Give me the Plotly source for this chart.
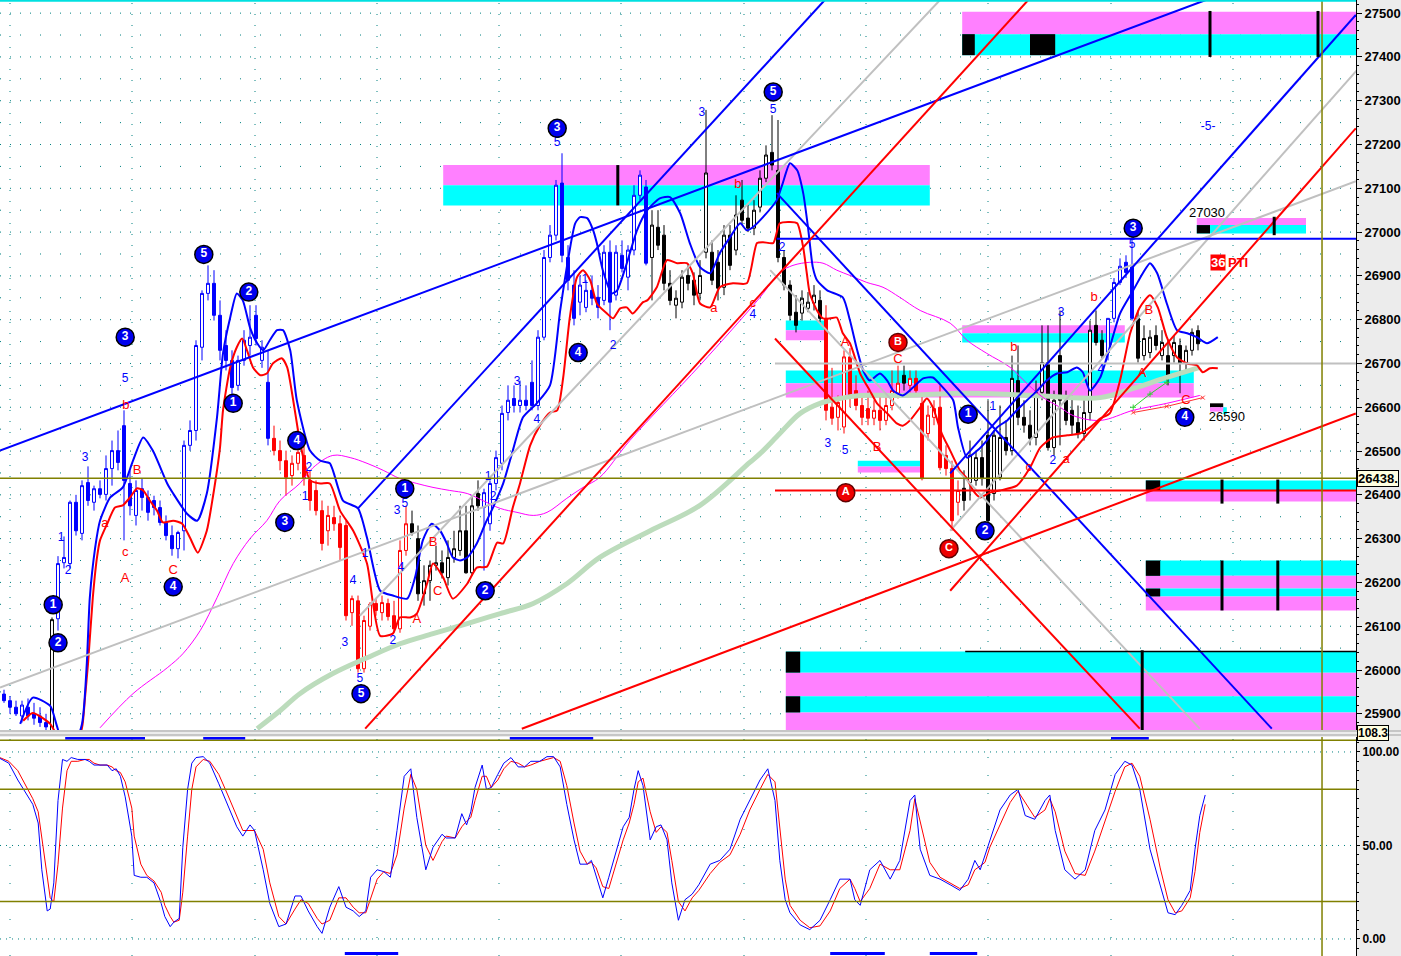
import plotly.graph_objects as go

# ---------------- candles (bar index 0..199) ----------------
opens = [25945,25930,25915,25895,25915,25900,25895,25880,25850,26117,
         26245,26243,26383,26312,26428,26383,26414,26401,26460,26501,
         26558,26426,26353,26414,26394,26387,26371,26337,26307,26277,
         26318,26513,26547,26737,26860,26883,26810,26741,26707,26650,
         26707,26741,26810,26707,26657,26529,26501,26478,26444,26472,
         26490,26433,26410,26364,26318,26348,26334,26330,26131,26158,
         26003,26100,26152,26131,26152,26124,26094,26273,26334,26300,
         26174,26204,26239,26245,26211,26257,26273,26318,26222,26403,
         26371,26334,26426,26472,26588,26620,26604,26616,26657,26604,
         26760,26942,26993,27112,26942,26879,26840,26828,26867,26851,
         26844,26954,26856,26947,26897,26959,27084,27103,26942,27011,
         26993,26883,26833,26840,26901,26890,26860,26954,26954,26931,
         26874,26993,26959,27073,27032,27009,27057,27123,27182,27141,
         26942,26879,26817,26815,26826,26838,26844,26803,26600,26577,
         26555,26715,26638,26604,26597,26575,26593,26570,26604,26632,
         26673,26650,26666,26609,26540,26577,26600,26490,26460,26383,
         26415,26428,26433,26485,26536,26403,26440,26531,26501,26661,
         26577,26559,26531,26634,26702,26508,26718,26616,26593,26565,
         26540,26588,26787,26753,26725,26803,26885,26931,26920,26803,
         26718,26725,26764,26718,26718,26718,26741,26702,26730,26775]
highs = [25955,25940,25930,25930,25935,25925,25915,25900,26120,26260,
         26305,26387,26400,26433,26465,26421,26433,26490,26524,26547,
         26593,26456,26433,26437,26410,26398,26387,26353,26330,26318,
         26524,26570,26753,26867,26924,26913,26844,26776,26730,26718,
         26776,26833,26833,26753,26730,26558,26524,26501,26490,26513,
         26513,26456,26433,26387,26375,26375,26353,26341,26170,26170,
         26124,26155,26163,26170,26163,26158,26296,26375,26364,26330,
         26239,26250,26284,26273,26296,26318,26375,26375,26398,26433,
         26414,26433,26501,26604,26650,26650,26661,26650,26707,26776,
         26959,27016,27119,27180,26970,26913,26901,26890,26901,26879,
         26970,26981,26970,26981,26970,27107,27141,27119,27050,27050,
         27016,26913,26867,26913,26924,26908,26936,27279,26981,26959,
         27016,27016,27084,27119,27062,27073,27141,27198,27267,27256,
         26959,26890,26856,26867,26863,26879,26867,26833,26690,26627,
         26730,26735,26673,26627,26638,26616,26627,26627,26684,26695,
         26695,26684,26684,26627,26604,26616,26650,26513,26478,26433,
         26456,26524,26501,26524,26616,26547,26604,26570,26718,26741,
         26616,26593,26661,26787,26787,26638,26821,26638,26627,26604,
         26616,26798,26821,26776,26803,26895,26940,26947,26993,26821,
         26787,26776,26787,26776,26753,26764,26757,26741,26780,26787]
lows = [25925,25900,25895,25880,25885,25875,25870,25850,25840,26090,
        26232,26232,26307,26296,26375,26364,26392,26387,26421,26456,
        26296,26353,26330,26364,26341,26353,26330,26296,26261,26255,
        26273,26501,26524,26707,26844,26798,26707,26684,26628,26638,
        26695,26718,26741,26690,26513,26490,26456,26398,26421,26456,
        26421,26364,26353,26273,26284,26318,26250,26113,26101,25994,
        25994,26090,26124,26113,26113,26085,26085,26261,26307,26158,
        26147,26158,26227,26209,26193,26245,26261,26220,26216,26364,
        26227,26318,26410,26456,26570,26588,26588,26593,26593,26593,
        26753,26931,26981,26931,26867,26787,26810,26817,26833,26803,
        26833,26776,26844,26908,26867,26947,27073,26924,26844,26959,
        26867,26833,26803,26826,26867,26833,26844,26940,26879,26844,
        26856,26913,26947,27016,27000,26993,27045,27114,27141,26931,
        26867,26798,26771,26798,26817,26821,26794,26570,26560,26547,
        26540,26600,26593,26559,26559,26559,26547,26559,26593,26620,
        26638,26634,26627,26433,26524,26559,26456,26444,26318,26353,
        26364,26387,26421,26421,26330,26387,26433,26490,26490,26559,
        26542,26513,26513,26616,26501,26490,26513,26559,26536,26529,
        26524,26570,26741,26712,26707,26794,26879,26895,26798,26702,
        26707,26712,26730,26707,26650,26702,26632,26684,26718,26730]
closes = [25930,25915,25900,25920,25895,25890,25880,25870,26115,26243,
          26257,26383,26318,26421,26387,26414,26401,26460,26501,26474,
          26433,26375,26410,26394,26360,26371,26337,26307,26277,26314,
          26513,26547,26741,26860,26883,26810,26730,26707,26645,26707,
          26753,26760,26757,26737,26529,26501,26478,26440,26472,26497,
          26437,26387,26364,26289,26353,26334,26280,26124,26163,26003,
          26113,26150,26136,26154,26122,26094,26273,26334,26314,26174,
          26204,26239,26245,26222,26257,26277,26318,26222,26375,26375,
          26405,26426,26485,26586,26616,26604,26616,26604,26604,26760,
          26942,26993,27107,26947,26890,26803,26879,26867,26849,26828,
          26954,26840,26954,26917,26959,27084,27130,26929,27016,26970,
          26883,26844,26849,26897,26883,26856,26901,27135,26890,26872,
          26993,26924,27039,27027,27009,27050,27123,27176,27153,26942,
          26879,26810,26787,26849,26840,26856,26803,26593,26575,26611,
          26715,26625,26604,26577,26575,26593,26570,26604,26638,26655,
          26655,26666,26638,26437,26582,26597,26462,26460,26341,26410,
          26387,26490,26485,26437,26341,26536,26531,26501,26666,26577,
          26559,26529,26634,26702,26508,26616,26616,26570,26559,26540,
          26588,26776,26748,26718,26803,26885,26922,26908,26803,26712,
          26757,26760,26741,26748,26673,26748,26700,26730,26771,26745]
candle_colors = (["#0000ff"] * 8 + ["#000000"] + ["#0000ff"] * 36 + ["#ff0000"] * 23 +
                 ["#000000"] * 12 + ["#0000ff"] * 28 + ["#000000"] * 29 + ["#ff0000"] * 13 +
                 ["#000000"] + ["#ff0000"] * 9 + ["#000000"] * 24 + ["#0000ff"] * 5 +
                 ["#000000"] * 11)

# ---------------- indicator curves (x = bar index, y = price) ----------------
env_hi_x = [2.7,4.8,7.7,8.8,10.7,13,13.8,14.3,15.2,16,17.7,19.8,21.5,23.2,24.8,27.2,28.2,30.5,32.2,33.8,
            35.5,36.5,37.7,38.8,39.8,41,42.2,43.2,44.3,45.5,46.5,47.7,48.8,51,52.7,54.3,56.5,59,60.5,62.7,
            64.8,67.2,68.5,69.8,71.3,72.7,73.8,74.8,76,77.2,78.8,80.2,81.5,83.2,84.8,86.5,88.8,91,92.7,94,
            95.2,96,97.2,98.2,98.8,99.8,101.3,102.2,103.8,105.5,107.2,109.3,111,112.7,114.3,116,117.7,119.3,121,122.7,
            123.8,124.8,126.5,128.8,129.8,131,132.2,133.2,134,134.8,135.5,137.2,139.8,141,142.2,143.2,144.3,146,147.2,148.2,
            149.8,151.5,153.2,154.8,156.5,158.2,159,160.5,162.2,163.8,165.5,167.2,168.8,170.5,172.2,173.8,175.5,177.2,178.8,179.8,
            181,182.7,184.3,186,188.2,189.8,191,192.2,193.8,195.5,197.2,198.8,200.5,202.3]
env_hi_y = [25877,25937,25918,25873,25793,25877,26015,26165,26280,26341,26394,26417,26478,26531,26501,26426,26403,26357,26341,26403,
            26577,26723,26805,26860,26844,26782,26746,26730,26753,26776,26776,26730,26616,26501,26478,26472,26387,26369,26302,26181,
            26170,26163,26211,26296,26334,26318,26289,26257,26250,26257,26289,26334,26371,26426,26501,26577,26609,26650,26821,26936,
            27020,27034,27032,27004,26975,26913,26860,26867,26929,27004,27050,27077,27080,27043,26975,26920,26906,26952,26988,27020,
            27004,27011,27034,27073,27112,27157,27141,27089,27011,26920,26890,26867,26851,26798,26730,26684,26661,26677,26661,26638,
            26627,26645,26666,26668,26645,26616,26554,26485,26501,26524,26554,26570,26593,26616,26638,26661,26677,26680,26691,26680,
            26638,26668,26737,26814,26867,26906,26929,26906,26837,26776,26769,26760,26746,26760]
env_lo_x = [3.2,4.8,7.7,8.8,11,13,13.5,14,14.8,15.5,16,17.2,18.5,19.8,21,22.2,23.2,24.3,25.5,26.5,
            28.2,29.7,31,32.3,33.8,34.8,36,36.5,37.7,38.8,39.7,40.5,41.5,42.7,43.8,44.8,46.3,47.2,48.2,49,
            49.8,51,52.7,54.3,56,58.2,60.5,61.5,62.7,64.8,66,67.7,68.8,70.5,71.5,73.2,74.8,77.2,78.8,80.5,
            82.2,83.2,84.8,86,87.7,89.3,91,92.2,93.2,94.3,95.5,96.5,97.7,98.8,100.5,101.5,102.7,103.8,104.8,106.5,
            107.2,108.8,110.5,112.2,113.8,114.8,116,117.7,119.3,121.5,123.8,125.5,126.5,128.2,129.3,131,132.2,133.2,133.8,134.3,
            135.5,136.5,137.7,138.8,139.8,141,142.7,144.3,145.5,147.2,148.8,149.8,151,152.7,153.8,154.8,156.3,157.7,159.3,160.5,
            161.5,162.7,164.3,166,168.8,171,172.7,174.8,177.2,179.3,181,182.7,184.3,186,187.7,189.3,191,192.3,193.8,195.5,
            197.2,198.8,199.8,201,202.3]
env_lo_y = [25884,25902,25877,25850,25793,25868,25937,26014,26165,26257,26296,26334,26371,26376,26394,26415,26410,26387,26364,26337,
            26341,26334,26302,26268,26318,26394,26508,26593,26691,26737,26757,26730,26691,26673,26677,26700,26712,26691,26616,26547,
            26490,26433,26426,26426,26364,26318,26243,26152,26078,26083,26120,26120,26129,26197,26243,26211,26163,26197,26234,26236,
            26291,26289,26371,26426,26513,26558,26588,26593,26668,26805,26897,26913,26890,26837,26814,26803,26826,26828,26814,26840,
            26844,26874,26936,26929,26929,26906,26837,26828,26874,26883,26883,26975,26977,26975,27020,27023,27020,26965,26906,26860,
            26821,26803,26803,26805,26769,26746,26677,26638,26609,26586,26563,26558,26570,26600,26620,26600,26540,26501,26456,26437,
            26410,26394,26405,26410,26421,26462,26508,26531,26536,26540,26554,26574,26586,26661,26769,26828,26856,26828,26760,26714,
            26700,26696,26680,26689,26689]
ma_mag_x = [16,21.5,27.2,29.8,32.7,35.5,38.2,41,43.8,46,49.3,51.5,54.8,57.7,60.5,63.2,66,68.8,71.5,74.3,
            77.2,79.8,82.7,85.5,88.2,90.5,93.8,96.5,99.3,104.3,116,126,129.3,131.5,134.3,136.5,138.8,141,143.8,146.5,
            149.3,152.7,157.7,160.5,163.8,167.7,170.5,173.2,176,178.2,182.7,188.2,193.8,199.3]
ma_mag_y = [25868,25946,26005,26037,26090,26165,26243,26300,26341,26387,26426,26462,26490,26485,26472,26456,26437,26426,26417,26410,
            26403,26387,26369,26360,26353,26360,26392,26417,26440,26524,26696,26851,26908,26924,26931,26929,26913,26901,26885,26874,
            26851,26821,26792,26753,26723,26691,26654,26622,26600,26581,26570,26593,26609,26627]
ma_grn_x = [42.2,46,49.3,54.8,60.5,66,71.5,77.2,82.7,88.2,93.8,99.3,107.7,116,124.3,126,129.3,132.7,136,139.3,
            142.7,149.3,160.5,171.5,182.7,188.2,193.8,199.3]
ma_grn_y = [25866,25907,25946,25992,26028,26060,26083,26106,26129,26152,26197,26257,26318,26376,26474,26494,26540,26586,26609,26620,
            26627,26627,26632,26627,26622,26643,26668,26691]
hatch_red_x = [188.2, 193.8, 199.8]
hatch_red_y = [26588, 26602, 26622]
hatch_grn_x = [188.2, 191.0, 193.8]
hatch_grn_y = [26600, 26630, 26657]

# ---------------- stochastic ----------------
stk_x = [-0.7,0.8,2.3,3.8,4.8,5.7,6.3,7.2,7.7,8.3,9,9.75,10.5,11.2,12.3,13.5,14.2,15,16,17.2,
         18,18.7,19.4,20.2,21.3,21.7,22.8,23.8,25,26.2,26.8,27.7,28.3,29.2,29.8,30.6,31.3,32,33.2,34.3,
         35.8,37.3,38.8,39.8,41,41.75,43.2,44.3,45.8,47,48.5,49.5,50.7,52.2,53,54.3,55.8,57,58.2,59.2,
         60.3,61.1,62.2,63.3,64.4,65.5,66.7,67.8,68.8,70.3,71.5,73,73.7,75.2,76.3,77.1,77.8,78.5,79.7,80.4,
         81.2,82.3,83.3,84.5,85.7,86.75,87.8,89.3,90.5,91.6,92.7,93.8,95,96,97.2,97.9,98.7,99.8,100.8,102,
         103.2,104.2,105,105.7,106.5,107.7,108.7,109.5,110.5,111.3,112.4,113.5,114.7,115.8,117.7,119.3,121,122.7,124.3,126,
         127.3,128.5,129.3,130.2,131,132.7,134.3,136,137.7,139.3,141,141.8,142.7,144.3,146,147.7,149.3,151,151.8,152.7,
         154.3,156,157.7,159.3,160.7,161.8,162.7,163.5,164.3,166,167.7,169,170.2,171.8,173.5,174.3,175.2,176.8,178.5,180.2,
         181.8,183.5,185.2,186.8,188,189.3,191,192.7,194,195.2,196.3,197.7,198.5,199.3,200.2]
stk_k = [96.6,94,85,77,72,62,37,15,16,30,74,96,95,97,96,96,95,93,93,93,
         90,91,87,76,55,34,33,33,30,19,12,6.6,9,11,49,80,94,97,97.5,94,
         83,71,60,55,61,58,37,19,6.6,8,23,23,15,6.6,3,17,28,17,15,12,
         15,33,37,36,33,58,87,91,65,37,49,56,54,54,67,61,68,81,93,80,
         81,88,94,97,92,92,95,95,97.5,97.5,92,72,53,40,40,42,33,22,33,47,
         60,65,80,90,82,53,60,61,53,30,10,21,24,29,40,42,48,64,74,85,
         91,74,42,21,14,7.5,5,10,21,32,32,21,18,37,42,32,42,74,77,48,
         34,32,29,26,32,42,37,45,53,69,77,80,66,64,74,77,58,37,32,37,
         58,69,88,95,93,80,48,29,14,13,18,26,48,66,77]
stk_d = [97,95,90,81,75,68,55,35,22,20,40,70,90,95,95,96,96,94,93,93,
         92,90,89,84,70,55,40,34,31,25,18,12,9,10,25,55,80,92,96,95,
         88,77,65,58,58,58,48,30,12,8,16,21,19,11,8,10,22,22,17,14,
         14,22,32,36,35,45,70,88,80,50,42,52,55,54,60,63,65,74,87,87,
         81,85,91,95,94,92,93,95,96,97,95,82,62,47,40,41,38,28,27,40,
         53,62,72,84,86,68,57,60,57,42,20,15,22,26,35,41,45,56,69,80,
         88,84,60,32,18,10,6,7,15,27,32,27,20,27,40,37,37,58,75,63,
         41,33,30,27,29,37,39,41,49,61,73,79,73,65,69,75,68,47,35,34,
         47,63,79,92,94,87,64,38,21,14,15,22,36,57,72]
stk_top_marks = [(10.2, 23.5), (33.2, 40.2), (84.3, 98.2), (184.5, 190.8)]
stk_bot_marks = [(56.8, 65.7), (137.7, 146.8), (154.3, 162.2)]

# ---------------- trend lines: (color, x0, p0, x1, p1) ----------------
trend_lines = [
    ("#c0c0c0", -0.667, 25960, 225.33, 27116),
    ("#c0c0c0", 59.3, 26124, 156.0, 27530),
    ("#c0c0c0", 157.7, 26318, 225.5, 27370),
    ("#c0c0c0", 127.7, 26913, 199.3, 25866),
    ("#c0c0c0", 128.5, 26700, 225.4, 26700),
    ("#0000ff", -0.667, 26501, 200.3, 27530),
    ("#0000ff", 157.7, 26449, 225.3, 27496),
    ("#0000ff", 59.0, 26369, 136.8, 27530),
    ("#0000ff", 128.8, 27089, 211.3, 25866),
    ("#0000ff", 128.8, 26985, 225.4, 26985),
    ("#ff0000", 60.2, 25866, 170.7, 27530),
    ("#ff0000", 86.3, 25866, 225.3, 26586),
    ("#ff0000", 157.7, 26181, 225.3, 27237),
    ("#ff0000", 128.5, 26757, 189.3, 25866),
    ("#ff0000", 128.5, 26410, 225.4, 26410),
]

# ---------------- zones: (x0, x1, p0, p1, color) ----------------
MAG, CYA, BLK = "#ff80ff", "#00ffff", "#000000"
zones = [
    (159.7, 225.4, 27452, 27503, MAG), (159.7, 225.4, 27404, 27452, CYA),
    (159.7, 161.8, 27404, 27452, BLK), (171.0, 175.2, 27404, 27452, BLK),
    (73.2, 154.3, 27107, 27153, MAG), (73.2, 154.3, 27061, 27107, CYA),
    (198.8, 217.0, 27016, 27032, MAG), (198.8, 217.0, 26997, 27016, CYA), (198.8, 201.0, 26997, 27016, BLK),
    (159.7, 186.8, 26769, 26787, MAG), (159.7, 186.8, 26748, 26769, CYA),
    (130.3, 137.3, 26776, 26798, CYA), (130.3, 137.3, 26753, 26776, MAG),
    (130.3, 198.3, 26655, 26684, CYA), (130.3, 198.3, 26622, 26655, MAG),
    (142.3, 153.0, 26465, 26478, CYA), (142.3, 153.0, 26451, 26465, MAG),
    (190.3, 225.4, 26410, 26433, CYA), (190.3, 225.4, 26385, 26410, MAG), (190.3, 192.7, 26410, 26433, BLK),
    (190.3, 225.4, 26215, 26250, CYA), (190.3, 225.4, 26186, 26215, MAG),
    (190.3, 225.4, 26168, 26186, CYA), (190.3, 225.4, 26136, 26168, MAG),
    (190.3, 192.7, 26215, 26250, BLK), (190.3, 192.7, 26168, 26186, BLK),
    (130.3, 225.4, 25994, 26042, CYA), (130.3, 225.4, 25940, 25994, MAG),
    (130.3, 225.4, 25903, 25940, CYA), (130.3, 225.4, 25850, 25903, MAG),
    (130.3, 132.7, 25994, 26042, BLK), (130.3, 132.7, 25903, 25940, BLK),
    (201.0, 203.2, 26600, 26609, BLK), (201.0, 203.5, 26590, 26600, MAG), (203.2, 203.8, 26584, 26600, CYA),
]
zone_bars = [(201.0, 27400, 27505), (219.0, 27400, 27505), (102.3, 27061, 27153), (211.7, 26993, 27035),
             (203.0, 26380, 26435), (212.3, 26380, 26435), (203.0, 26136, 26250), (212.3, 26136, 26250),
             (189.7, 25850, 26045)]
zone_edge = (160.2, 225.4, 26042)

# ---------------- wave labels ----------------
circ_blue = [(20.2,26760,"3"),(33.3,26949,"5"),(40.8,26863,"2"),(38.2,26609,"1"),(48.8,26524,"4"),
             (46.8,26337,"3"),(8.2,26149,"1"),(9.0,26062,"2"),(28.2,26190,"4"),(59.5,25946,"5"),
             (66.8,26414,"1"),(80.2,26181,"2"),(92.2,27237,"3"),(95.7,26725,"4"),(128.2,27320,"5"),
             (160.7,26584,"1"),(163.5,26318,"2"),(188.2,27009,"3"),(196.8,26577,"4")]
circ_red = [(149.0,26748,"B"),(140.3,26405,"A"),(157.5,26277,"C")]
blue_lbl = [(20.2,26664,"5"),(13.5,26483,"3"),(9.5,26302,"1"),(10.7,26227,"2"),(50.8,26462,"2"),
            (50.2,26394,"1"),(60.2,26266,"1"),(58.2,26204,"4"),(56.8,26062,"3"),(59.3,25980,"5"),
            (64.8,26067,"2"),(65.5,26364,"3"),(66.8,26378,"5"),(66.2,26234,"4"),(80.7,26440,"1"),
            (81.5,26394,"2"),(85.5,26657,"3"),(88.8,26570,"4"),(92.2,27203,"5"),(96.8,26890,"1"),
            (101.5,26741,"2"),(116.3,27272,"3"),(128.2,27279,"5"),(129.7,26963,"2"),(124.8,26810,"4"),
            (137.3,26517,"3"),(140.2,26501,"5"),(164.8,26600,"1"),(176.2,26815,"3"),(174.8,26478,"2"),
            (182.8,26684,"4"),(188.0,26970,"5"),(200.7,27240,"-5-")]
red_lbl = [(20.3,26604,"b"),(22.2,26456,"B"),(16.8,26334,"a"),(20.2,26268,"c"),(20.2,26209,"A"),
           (28.2,26227,"C"),(71.5,26291,"B"),(72.3,26179,"C"),(68.8,26115,"A"),(122.3,27107,"b"),
           (118.3,26826,"a"),(124.8,26837,"c"),(140.2,26748,"A"),(145.5,26508,"B"),(149.0,26709,"C"),
           (168.3,26737,"b"),(170.8,26462,"c"),(177.0,26481,"a"),(181.7,26851,"b"),(190.8,26821,"B"),
           (189.7,26677,"A"),(197.0,26616,"C")]
black_lbl = [(200.5,27043,"27030"),(203.8,26575,"26590")]
last_price = 26438
stoch_top_val = "108.3"
price_ticks = list(range(25900, 27501, 100))

# ================= figure =================
W, H = 1401, 956
PW = 1356.0  # plot-area width (paper coordinates are relative to it)
fig = go.Figure()

# MAs under candles
fig.add_trace(go.Scatter(x=ma_grn_x, y=ma_grn_y, mode="lines", line=dict(color="#bcdcbc", width=5, shape="spline"), hoverinfo="skip"))
fig.add_trace(go.Scatter(x=ma_mag_x, y=ma_mag_y, mode="lines", line=dict(color="#ff00ff", width=1, shape="spline"), hoverinfo="skip"))
fig.add_trace(go.Scatter(x=hatch_red_x, y=hatch_red_y, mode="lines+markers", line=dict(color="#ff3030", width=1),
                         marker=dict(symbol="x-thin-open", size=4, line=dict(color="#ff3030", width=1)), hoverinfo="skip"))
fig.add_trace(go.Scatter(x=hatch_grn_x, y=hatch_grn_y, mode="lines+markers", line=dict(color="#30d030", width=1),
                         marker=dict(symbol="cross-thin-open", size=4, line=dict(color="#30d030", width=1)), hoverinfo="skip"))

# candles by colour
for col in ["#0000ff", "#ff0000", "#000000"]:
    idx = [i for i, c in enumerate(candle_colors) if c == col]
    fig.add_trace(go.Candlestick(
        x=idx, open=[opens[i] for i in idx], high=[highs[i] for i in idx],
        low=[lows[i] for i in idx], close=[closes[i] for i in idx],
        increasing=dict(line=dict(color=col, width=1), fillcolor="white"),
        decreasing=dict(line=dict(color=col, width=1), fillcolor=col),
        whiskerwidth=0, hoverinfo="skip"))

# envelopes
fig.add_trace(go.Scatter(x=env_lo_x, y=env_lo_y, mode="lines", line=dict(color="#ff0000", width=2, shape="spline", smoothing=0.6), hoverinfo="skip"))
fig.add_trace(go.Scatter(x=env_hi_x, y=env_hi_y, mode="lines", line=dict(color="#0000ff", width=2, shape="spline", smoothing=0.6), hoverinfo="skip"))

# trend lines
for col, x0, p0, x1, p1 in trend_lines:
    fig.add_trace(go.Scatter(x=[x0, x1], y=[p0, p1], mode="lines", line=dict(color=col, width=2), hoverinfo="skip"))

# labels
fig.add_trace(go.Scatter(x=[a[0] for a in blue_lbl], y=[a[1] for a in blue_lbl], text=[a[2] for a in blue_lbl],
                         mode="text", textfont=dict(family="Liberation Sans, Arial", size=12, color="#0000ff"), hoverinfo="skip"))
fig.add_trace(go.Scatter(x=[a[0] for a in red_lbl], y=[a[1] for a in red_lbl], text=[a[2] for a in red_lbl],
                         mode="text", textfont=dict(family="Liberation Sans, Arial", size=13, color="#ff0000"), hoverinfo="skip"))
fig.add_trace(go.Scatter(x=[a[0] for a in black_lbl], y=[a[1] for a in black_lbl], text=[a[2] for a in black_lbl],
                         mode="text", textfont=dict(family="Liberation Sans, Arial", size=13, color="#000000"), hoverinfo="skip"))
fig.add_trace(go.Scatter(x=[a[0] for a in circ_blue], y=[a[1] for a in circ_blue], text=[a[2] for a in circ_blue],
                         mode="markers+text", textposition="middle center",
                         marker=dict(size=18, color="#0000ee", line=dict(color="#000000", width=1.5)),
                         textfont=dict(family="Liberation Sans, Arial", size=12, color="white", weight="bold"), hoverinfo="skip"))
fig.add_trace(go.Scatter(x=[a[0] for a in circ_red], y=[a[1] for a in circ_red], text=[a[2] for a in circ_red],
                         mode="markers+text", textposition="middle center",
                         marker=dict(size=18, color="#ee0000", line=dict(color="#600000", width=1.5)),
                         textfont=dict(family="Liberation Sans, Arial", size=11, color="white", weight="bold"), hoverinfo="skip"))

# stochastic
fig.add_trace(go.Scatter(x=stk_x, y=stk_d, xaxis="x2", yaxis="y2", mode="lines", line=dict(color="#ff0000", width=1), hoverinfo="skip"))
fig.add_trace(go.Scatter(x=stk_x, y=stk_k, xaxis="x2", yaxis="y2", mode="lines", line=dict(color="#0000ff", width=1), hoverinfo="skip"))

shapes = []
# grid - main panel
for p in range(25900, 27501, 50):
    shapes.append(dict(type="line", xref="paper", yref="y", x0=0, x1=1, y0=p, y1=p, layer="below",
                       line=dict(color="#008080", width=1, dash="1px,9px" if p % 100 == 0 else "1px,19px")))
for px in [10, 132, 255, 377, 499, 621, 744, 866, 988, 1111, 1233]:
    shapes.append(dict(type="line", xref="paper", yref="y domain", x0=px / PW, x1=px / PW, y0=0, y1=1, layer="below",
                       line=dict(color="#008080", width=1, dash="1px,10px")))
    shapes.append(dict(type="line", xref="paper", yref="y2 domain", x0=px / PW, x1=px / PW, y0=0, y1=1, layer="below",
                       line=dict(color="#008080", width=1, dash="1px,17px")))
for v in [0, 50, 100]:
    shapes.append(dict(type="line", xref="paper", yref="y2", x0=0, x1=1, y0=v, y1=v, layer="below",
                       line=dict(color="#008080", width=1, dash="1px,5px")))
# zones
for x0, x1, p0, p1, col in zones:
    shapes.append(dict(type="rect", xref="x", yref="y", x0=x0, x1=x1, y0=p0, y1=p1, layer="below",
                       fillcolor=col, line=dict(width=0)))
for xb, p0, p1 in zone_bars:
    shapes.append(dict(type="line", xref="x", yref="y", x0=xb, x1=xb, y0=p0, y1=p1, layer="above",
                       line=dict(color="black", width=3)))
shapes.append(dict(type="line", xref="x", yref="y", x0=zone_edge[0], x1=zone_edge[1], y0=zone_edge[2], y1=zone_edge[2],
                   layer="above", line=dict(color="black", width=1.5)))
# olive lines
OL = "#808000"
shapes.append(dict(type="line", xref="paper", yref="y", x0=0, x1=1, y0=last_price, y1=last_price, line=dict(color=OL, width=1.5)))
shapes.append(dict(type="line", xref="x", yref="y domain", x0=219.67, x1=219.67, y0=0, y1=1, line=dict(color=OL, width=1.5)))
shapes.append(dict(type="line", xref="x", yref="y2 domain", x0=219.67, x1=219.67, y0=0, y1=1, line=dict(color=OL, width=1.5)))
for v in [20, 80]:
    shapes.append(dict(type="line", xref="paper", yref="y2", x0=0, x1=1, y0=v, y1=v, line=dict(color=OL, width=1.5)))
shapes.append(dict(type="line", xref="paper", yref="y2 domain", x0=0, x1=1, y0=0.985, y1=0.985, line=dict(color=OL, width=1.5)))
# stochastic marks
for x0, x1 in stk_top_marks:
    shapes.append(dict(type="rect", xref="x2", yref="y2", x0=x0, x1=x1, y0=106.6, y1=108.2, fillcolor="#0000ff", line=dict(width=0)))
for x0, x1 in stk_bot_marks:
    shapes.append(dict(type="rect", xref="x2", yref="y2", x0=x0, x1=x1, y0=-8.6, y1=-7.0, fillcolor="#0000ff", line=dict(width=0)))
# top cyan edge
shapes.append(dict(type="line", xref="paper", yref="y domain", x0=0, x1=1, y0=0.999, y1=0.999, line=dict(color="#00e0e0", width=2)))
# panel separator
shapes.append(dict(type="line", xref="paper", yref="paper", x0=0, x1=W / PW, y0=1 - 731 / H, y1=1 - 731 / H, line=dict(color="#a0a0a0", width=1)))
shapes.append(dict(type="line", xref="paper", yref="paper", x0=0, x1=W / PW, y0=1 - 735 / H, y1=1 - 735 / H, line=dict(color="#a0a0a0", width=1)))

annotations = [
    dict(xref="paper", yref="y", x=1357 / PW, y=last_price, xanchor="left", yanchor="middle", showarrow=False,
         text="<b>%d.</b>" % last_price, bgcolor="#ffffe0", bordercolor="black", borderwidth=1, borderpad=0,
         font=dict(family="Liberation Sans, Arial", size=13, color="black")),
    dict(xref="paper", yref="paper", x=1357 / PW, y=1 - 733 / H, xanchor="left", yanchor="middle", showarrow=False,
         text="<b>%s</b>" % stoch_top_val, bgcolor="#ffffe0", bordercolor="black", borderwidth=1, borderpad=0,
         font=dict(family="Liberation Sans, Arial", size=12, color="black")),
    dict(xref="x", yref="y", x=201.0, y=26931, xanchor="left", yanchor="middle", showarrow=False,
         text="<b>36</b>", bgcolor="#ff0000", borderpad=0,
         font=dict(family="Liberation Sans, Arial", size=13, color="white")),
    dict(xref="x", yref="y", x=203.6, y=26931, xanchor="left", yanchor="middle", showarrow=False,
         text="<b>PTI</b>", font=dict(family="Liberation Sans, Arial", size=13, color="#ff0000")),
]

axis_font = dict(family="Liberation Sans, Arial", size=13, color="black", weight="bold")
stoch_font = dict(family="Liberation Sans, Arial", size=12, color="black", weight="bold")
fig.update_layout(
    width=W, height=H, margin=dict(l=0, r=45, t=0, b=0, autoexpand=False),
    paper_bgcolor="#ececec", plot_bgcolor="white", showlegend=False, hovermode=False,
    shapes=shapes, annotations=annotations,
    xaxis=dict(domain=[0, 1], range=[-0.667, 225.333], showticklabels=False, showgrid=False,
               zeroline=False, anchor="y", rangeslider=dict(visible=False), ticks="", automargin=False),
    xaxis2=dict(domain=[0, 1], range=[-0.667, 225.333], showticklabels=False, showgrid=False,
                zeroline=False, anchor="y2", matches="x", ticks="", automargin=False),
    yaxis=dict(domain=[1 - 730 / H, 1], range=[25863, 27530], side="right", anchor="x", showline=True,
               linecolor="black", linewidth=1, ticks="outside", ticklen=5, tickcolor="black",
               tickvals=price_ticks, ticktext=[str(v) for v in price_ticks], tickfont=axis_font,
               showgrid=False, zeroline=False, automargin=False,
               minor=dict(ticks="outside", ticklen=2, tickcolor="black", tick0=25900, dtick=20, showgrid=False)),
    yaxis2=dict(domain=[0, 1 - 737 / H], range=[-9.1, 108.0], side="right", anchor="x2", showline=True,
                linecolor="black", linewidth=1, ticks="outside", ticklen=3, tickcolor="black",
                tickvals=[0, 50, 100], ticktext=["0.00", "50.00", "100.00"], tickfont=stoch_font,
                ticklabelstandoff=0,
                showgrid=False, zeroline=False, automargin=False,
                minor=dict(ticks="outside", ticklen=2, tickcolor="black", tick0=0, dtick=5, showgrid=False)),
)

fig.write_html("out.html", config={"displayModeBar": False, "staticPlot": True},
               post_script="document.body.style.margin='0px';document.body.style.overflow='hidden';")
